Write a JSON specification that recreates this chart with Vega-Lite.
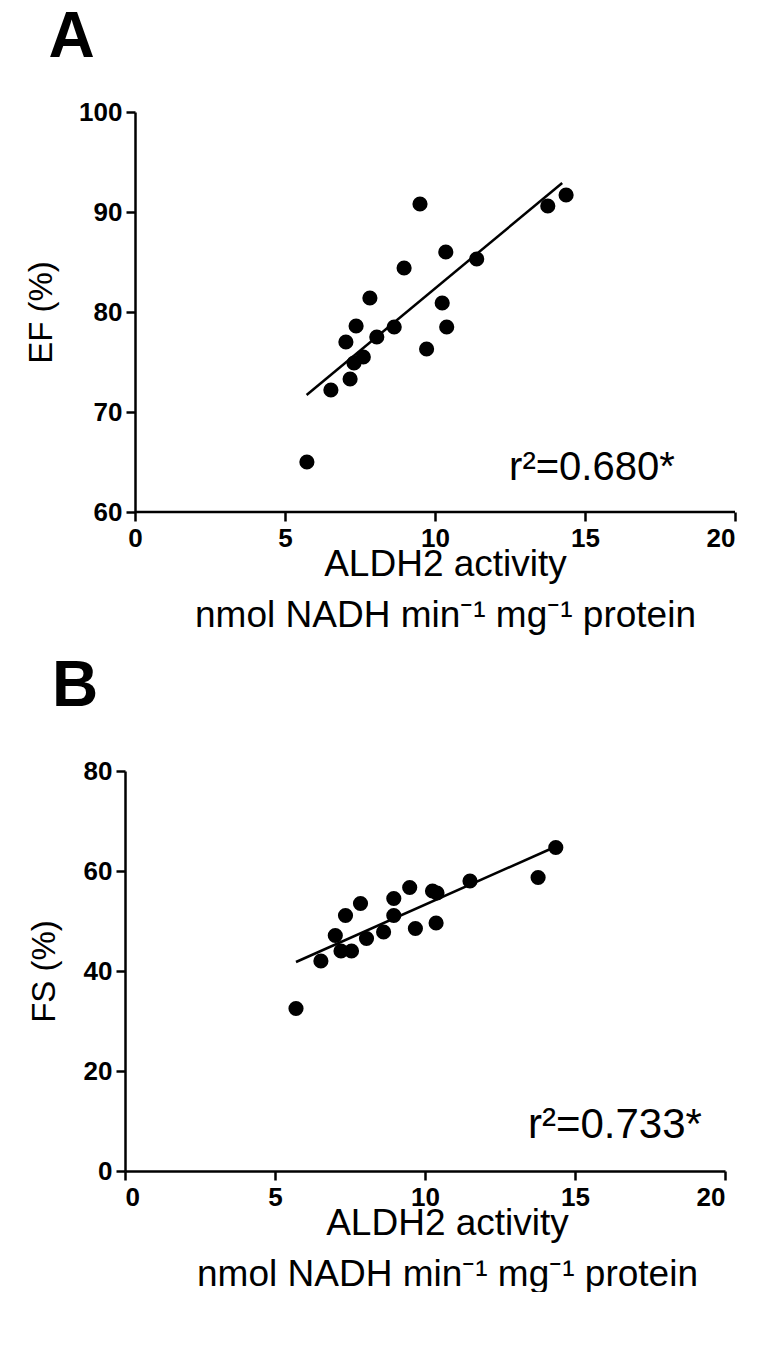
{
  "$schema": "https://vega.github.io/schema/vega-lite/v6.json",
  "background": "white",
  "padding": {"left": 25, "top": 6, "right": 0, "bottom": 0},
  "columns": 1,
  "spacing": 22,
  "align": "none",
  "config": {
    "font": "Liberation Sans",
    "view": {"stroke": null},
    "axis": {
      "grid": false,
      "domainColor": "black",
      "domainWidth": 2.5,
      "tickColor": "black",
      "tickWidth": 2.5,
      "tickSize": 9,
      "labelFontSize": 26,
      "labelFontWeight": "bold",
      "labelColor": "black",
      "labelPadding": 4,
      "titleColor": "black",
      "titleFontSize": 37,
      "titleFontWeight": "normal"
    },
    "title": {"fontSize": 64, "fontWeight": "bold", "anchor": "start", "color": "black", "frame": "bounds"}
  },
  "concat": [
    {
      "title": {"text": "A", "dx": 23, "offset": 29},
      "width": 610,
      "height": 400,
      "layer": [
        {
          "data": {"values": [{"from": 0, "to": 20, "base": 60}]},
          "mark": {"type": "rule", "color": "black", "strokeWidth": 2.5},
          "encoding": {
            "x": {"field": "from", "type": "quantitative"},
            "x2": {"field": "to"},
            "y": {"field": "base", "type": "quantitative"}
          }
        },
        {
          "data": {"values": [
            {"activity": 5.73, "EF": 65.0},
            {"activity": 6.53, "EF": 72.2},
            {"activity": 7.03, "EF": 77.0},
            {"activity": 7.17, "EF": 73.3},
            {"activity": 7.30, "EF": 74.9},
            {"activity": 7.37, "EF": 78.6},
            {"activity": 7.61, "EF": 75.5},
            {"activity": 7.83, "EF": 81.4},
            {"activity": 8.06, "EF": 77.5},
            {"activity": 8.64, "EF": 78.5},
            {"activity": 8.97, "EF": 84.4},
            {"activity": 9.50, "EF": 90.8},
            {"activity": 9.72, "EF": 76.3},
            {"activity": 10.24, "EF": 80.9},
            {"activity": 10.36, "EF": 86.0},
            {"activity": 10.39, "EF": 78.5},
            {"activity": 11.39, "EF": 85.3},
            {"activity": 13.76, "EF": 90.6},
            {"activity": 14.37, "EF": 91.7}
          ]},
          "mark": {"type": "circle", "size": 230, "color": "black", "opacity": 1},
          "encoding": {
            "x": {"field": "activity", "type": "quantitative", "scale": {"domain": [-0.3333, 20], "nice": false, "zero": false},
                  "axis": {"values": [0, 5, 10, 15, 20], "domain": false, "title": ["ALDH2 activity", "nmol NADH min⁻¹ mg⁻¹ protein"], "titleLineHeight": 51, "titlePadding": -5, "titleX": 320}},
            "y": {"field": "EF", "type": "quantitative", "scale": {"domain": [60, 100], "nice": false, "zero": false},
                  "axis": {"values": [60, 70, 80, 90, 100], "title": "EF (%)", "titleFontSize": 33, "titlePadding": 20, "offset": -10}}
          }
        },
        {
          "data": {"values": [{"activity": 5.72, "EF": 71.7}, {"activity": 14.24, "EF": 92.9}]},
          "mark": {"type": "line", "color": "black", "strokeWidth": 2.5},
          "encoding": {
            "x": {"field": "activity", "type": "quantitative"},
            "y": {"field": "EF", "type": "quantitative"}
          }
        },
        {
          "data": {"values": [{"activity": 15.23, "EF": 64.4, "label": "r²=0.680*"}]},
          "mark": {"type": "text", "fontSize": 40, "color": "black"},
          "encoding": {
            "x": {"field": "activity", "type": "quantitative"},
            "y": {"field": "EF", "type": "quantitative"},
            "text": {"field": "label"}
          }
        }
      ]
    },
    {
      "title": {"text": "B", "dx": 24, "offset": 39},
      "width": 600,
      "height": 400,
      "layer": [
        {
          "data": {"values": [
            {"activity": 5.70, "FS": 32.5},
            {"activity": 6.53, "FS": 42.0},
            {"activity": 7.01, "FS": 47.1},
            {"activity": 7.20, "FS": 44.0},
            {"activity": 7.35, "FS": 51.1},
            {"activity": 7.55, "FS": 44.0},
            {"activity": 7.85, "FS": 53.5},
            {"activity": 8.05, "FS": 46.5},
            {"activity": 8.62, "FS": 47.8},
            {"activity": 8.96, "FS": 51.1},
            {"activity": 8.96, "FS": 54.5},
            {"activity": 9.49, "FS": 56.7},
            {"activity": 9.68, "FS": 48.5},
            {"activity": 10.25, "FS": 56.0},
            {"activity": 10.40, "FS": 55.6},
            {"activity": 10.37, "FS": 49.6},
            {"activity": 11.50, "FS": 58.0},
            {"activity": 13.77, "FS": 58.7},
            {"activity": 14.36, "FS": 64.7}
          ]},
          "mark": {"type": "circle", "size": 230, "color": "black", "opacity": 1},
          "encoding": {
            "x": {"field": "activity", "type": "quantitative", "scale": {"domain": [0, 20], "nice": false, "zero": false},
                  "axis": {"values": [0, 5, 10, 15, 20], "title": ["ALDH2 activity", "nmol NADH min⁻¹ mg⁻¹ protein"], "titleLineHeight": 51, "titlePadding": -5, "titleX": 322}},
            "y": {"field": "FS", "type": "quantitative", "scale": {"domain": [0, 80], "nice": false},
                  "axis": {"values": [0, 20, 40, 60, 80], "title": "FS (%)", "titleFontSize": 33, "titlePadding": 22}}
          }
        },
        {
          "data": {"values": [{"activity": 5.7, "FS": 41.8}, {"activity": 14.33, "FS": 64.8}]},
          "mark": {"type": "line", "color": "black", "strokeWidth": 2.5},
          "encoding": {
            "x": {"field": "activity", "type": "quantitative"},
            "y": {"field": "FS", "type": "quantitative"}
          }
        },
        {
          "data": {"values": [{"activity": 16.33, "FS": 9.2, "label": "r²=0.733*"}]},
          "mark": {"type": "text", "fontSize": 42, "color": "black"},
          "encoding": {
            "x": {"field": "activity", "type": "quantitative"},
            "y": {"field": "FS", "type": "quantitative"},
            "text": {"field": "label"}
          }
        }
      ]
    }
  ]
}
